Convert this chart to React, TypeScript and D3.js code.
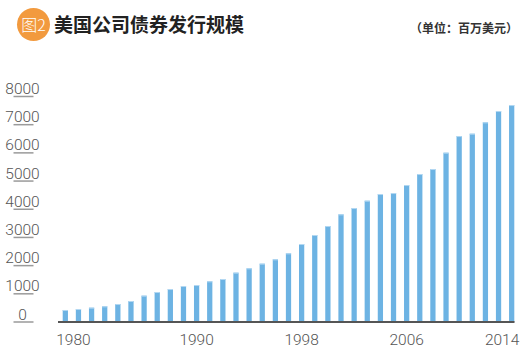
import { useEffect, useRef } from 'react'
import * as d3 from 'd3';

// Data (millions of US dollars)
const years = [1980, 1981, 1982, 1983, 1984, 1985, 1986, 1987, 1988, 1989,
  1990, 1991, 1992, 1993, 1994, 1995, 1996, 1997, 1998, 1999,
  2000, 2001, 2002, 2003, 2004, 2005, 2006, 2007, 2008, 2009,
  2010, 2011, 2012, 2013, 2014];
const issuance = [426, 461, 508, 556, 638, 745, 934, 1064, 1170, 1277,
  1312, 1443, 1525, 1750, 1904, 2069, 2223, 2436, 2767, 3086,
  3405, 3819, 4043, 4303, 4540, 4575, 4859, 5249, 5427, 6006,
  6597, 6680, 7083, 7484, 7697];
const yTicks = [0, 1000, 2000, 3000, 4000, 5000, 6000, 7000, 8000];
const xTickYears = [1980, 1990, 1998, 2006, 2014];

const title = '美国公司债券发行规模';
const badge = '图2';
const unit = '（单位：百万美元）';

const App = () => {

  const canvas = useRef<SVGSVGElement>(null);

  useEffect(() => {

    const svg = d3.select(canvas.current);
    svg.selectAll('*').remove();

    const width = 530, height = 361;
    const numFont = 'Roboto, "Liberation Sans", sans-serif';
    const cjkFont = '"Noto Sans CJK SC", sans-serif';

    // Scales
    const x = d3.scaleBand<number>()
      .domain(years)
      .range([62.7, 514.3])
      .paddingInner(0.6)
      .paddingOuter(0);

    const y = d3.scaleLinear()
      .domain([0, 8000])
      .range([322, 96.5]);

    // Header: badge, title, unit
    svg.append('circle')
      .attr('cx', 33.5).attr('cy', 24.5).attr('r', 16.5)
      .attr('fill', '#f29a3e');
    svg.append('text')
      .attr('x', 33.5).attr('y', 30.5)
      .attr('text-anchor', 'middle')
      .attr('font-family', cjkFont)
      .attr('font-size', 16)
      .attr('font-weight', 300)
      .attr('fill', '#fff')
      .text(badge);
    svg.append('text')
      .attr('x', 54).attr('y', 31.5)
      .attr('font-family', cjkFont)
      .attr('font-size', 19)
      .attr('font-weight', 700)
      .attr('fill', '#222')
      .text(title);
    svg.append('text')
      .attr('x', 518).attr('y', 32.5)
      .attr('text-anchor', 'end')
      .attr('font-family', cjkFont)
      .attr('font-size', 12)
      .attr('font-weight', 700)
      .attr('fill', '#333')
      .text(unit);

    // Y axis: centred labels with a short gray rule under each
    const yAxis = svg.append('g');
    yAxis.selectAll('line')
      .data(yTicks)
      .join('line')
      .attr('x1', 13.5).attr('x2', 33.5)
      .attr('y1', (d) => y(d)).attr('y2', (d) => y(d))
      .attr('stroke', '#9a9a9a')
      .attr('stroke-width', 1.5);
    yAxis.selectAll('text')
      .data(yTicks)
      .join('text')
      .attr('x', 22.5)
      .attr('y', (d) => y(d) - 2.5)
      .attr('text-anchor', 'middle')
      .attr('font-family', numFont)
      .attr('font-size', 15.5)
      .attr('font-weight', 300)
      .attr('fill', '#555')
      .text((d) => d);

    // Bars
    const bars = svg.append('g');
    bars.selectAll('rect')
      .data(issuance)
      .join('rect')
      .attr('x', (d, i) => x(years[i]))
      .attr('width', x.bandwidth())
      .attr('y', (d) => y(d))
      .attr('height', (d) => y(0) - y(d))
      .attr('fill', '#6db3e3');
    // light top edge on each bar
    bars.selectAll('line')
      .data(issuance)
      .join('line')
      .attr('x1', (d, i) => x(years[i]))
      .attr('x2', (d, i) => x(years[i]) + x.bandwidth())
      .attr('y1', (d) => y(d) + 0.5)
      .attr('y2', (d) => y(d) + 0.5)
      .attr('stroke', '#b3d8f2')
      .attr('stroke-width', 1);

    // Baseline
    svg.append('line')
      .attr('x1', 58).attr('x2', 514.5)
      .attr('y1', y(0)).attr('y2', y(0))
      .attr('stroke', '#555')
      .attr('stroke-width', 2);

    // X labels: first left-aligned, last right-aligned, others centred
    const last = xTickYears.length - 1;
    svg.append('g')
      .selectAll('text')
      .data(xTickYears)
      .join('text')
      .attr('x', (d, i) => i === 0 ? x(d) - 6.5
        : i === last ? x(d) + x.bandwidth() + 5
        : x(d) + x.bandwidth() / 2)
      .attr('y', 345)
      .attr('text-anchor', (d, i) => i === 0 ? 'start' : i === last ? 'end' : 'middle')
      .attr('font-family', numFont)
      .attr('font-size', 15.5)
      .attr('font-weight', 300)
      .attr('fill', '#555')
      .text((d) => d);

    svg.attr('width', width).attr('height', height);

  }, []);

  return (
    <div style={{ position: 'absolute', left: 0, top: 0, background: '#fff' }}>
      <svg ref={canvas} width={530} height={361} style={{ display: 'block' }}></svg>
    </div>
  );

}

export default App;
